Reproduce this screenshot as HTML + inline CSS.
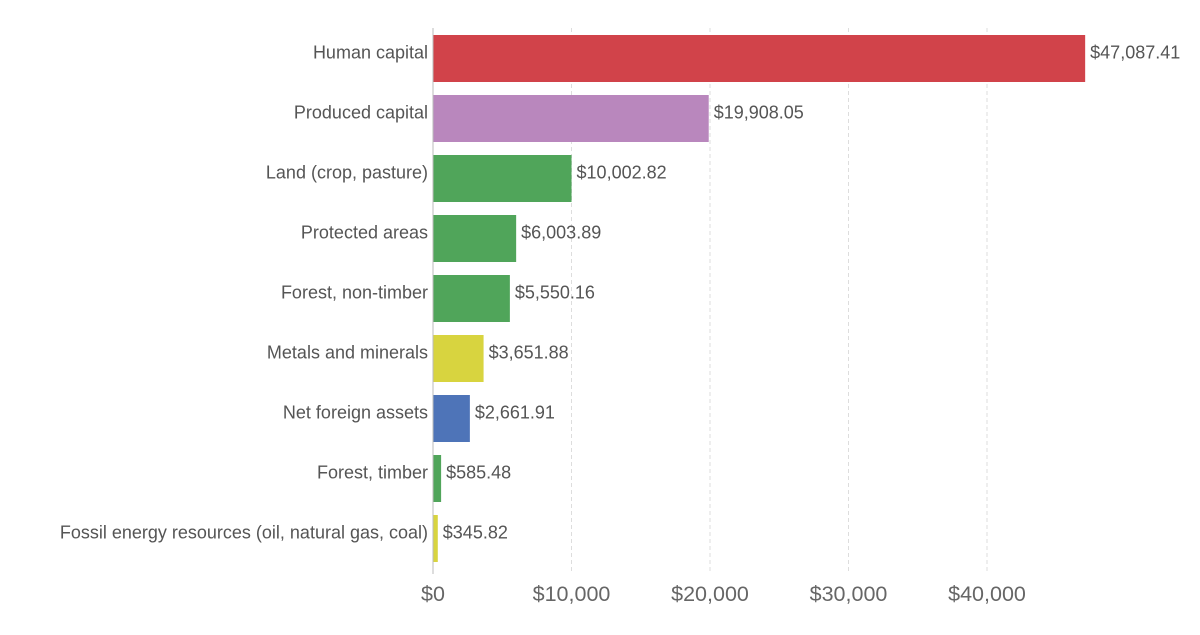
<!DOCTYPE html>
<html><head><meta charset="utf-8"><style>
body{margin:0;background:#fff;width:1200px;height:630px;overflow:hidden;font-family:"Liberation Sans",Arial,sans-serif}
</style></head><body>
<svg id="chart" width="1200" height="630" xmlns="http://www.w3.org/2000/svg"></svg>
<script>
const categories=["Human capital","Produced capital","Land (crop, pasture)","Protected areas","Forest, non-timber","Metals and minerals","Net foreign assets","Forest, timber","Fossil energy resources (oil, natural gas, coal)"];
const values=[47087.41,19908.05,10002.82,6003.89,5550.16,3651.88,2661.91,585.48,345.82];
const valueLabels=["$47,087.41","$19,908.05","$10,002.82","$6,003.89","$5,550.16","$3,651.88","$2,661.91","$585.48","$345.82"];
const colors=["#d1434a","#b987bd","#50a55a","#50a55a","#50a55a","#d8d43f","#4e74b8","#50a55a","#d8d43f"];
const ticks=[0,10000,20000,30000,40000];
const tickLabels=["$0","$10,000","$20,000","$30,000","$40,000"];
const svg=document.getElementById('chart');
const NS="http://www.w3.org/2000/svg";
const x0=433, pxPer=(987-433)/40000;
const xs=v=>x0+v*pxPer;
const ys=i=>35+i*60;
const bh=47;
function mk(t,a){const e=document.createElementNS(NS,t);for(const k in a)e.setAttribute(k,a[k]);svg.appendChild(e);return e;}
ticks.forEach((t,i)=>{
  if(t>0){const g=mk('line',{x1:xs(t),x2:xs(t),y1:28,y2:574,stroke:'#ddd','stroke-dasharray':'4,3'});
  
  }
  const tl=mk('text',{x:xs(t),y:601,'text-anchor':'middle','font-size':21.5,fill:'#666'});
  tl.textContent=tickLabels[i];
  
  
});
values.forEach((v,i)=>{
  const r=mk('rect',{x:x0,y:ys(i),width:Math.max(0,xs(v)-x0),height:bh,fill:colors[i]});
  
  
  const c=mk('text',{x:428,y:ys(i)+bh/2,'text-anchor':'end','font-size':18,fill:'#555'});
  c.textContent=categories[i];
  
  
  const l=mk('text',{x:xs(v)+5,y:ys(i)+bh/2,'font-size':18,fill:'#555'});
  l.textContent=valueLabels[i];
  
  
});
const ax=mk('line',{x1:x0,x2:x0,y1:28,y2:574,stroke:'#bbb'});


</script>
</body></html>
